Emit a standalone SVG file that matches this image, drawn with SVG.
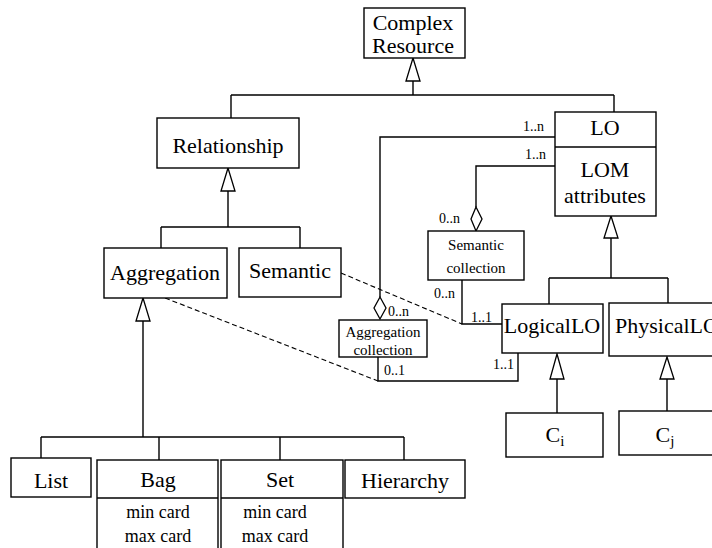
<svg xmlns="http://www.w3.org/2000/svg" width="712" height="548" viewBox="0 0 712 548" font-family="'Liberation Serif', 'Times New Roman', 'DejaVu Serif', serif">
<style>
.box{fill:#fff;stroke:#000;stroke-width:1.4}
.ln{fill:none;stroke:#000;stroke-width:1.4}
.dash{fill:none;stroke:#000;stroke-width:1.1;stroke-dasharray:5,3}
.tri{fill:#fff;stroke:#000;stroke-width:1.3}
text{font-family:'Liberation Serif','Times New Roman','DejaVu Serif',serif;fill:#000}
.t21{font-size:22px;text-anchor:middle}
.t18{font-size:18px;text-anchor:middle}
.t15{font-size:15px;text-anchor:middle}
.t13{font-size:14px}
</style>
<g id="connectors">
  <path class="ln" d="M413,81 V95 M231,95 H614 M231,95 V118 M614,95 V112"/>
  <polygon class="tri" points="413,58 406,81 420,81"/>
  <path class="ln" d="M228,191 V227 M161,227 H300 M161,227 V248 M300,227 V248"/>
  <polygon class="tri" points="228,168 221,191 235,191"/>
  <path class="ln" d="M143,321 V437 M41,437 H404 M41,437 V458 M159,437 V460 M280,437 V460 M404,437 V460"/>
  <polygon class="tri" points="143,298 136,321 150,321"/>
  <path class="ln" d="M611,238 V278 M549,278 H668 M549,278 V304 M668,278 V303"/>
  <polygon class="tri" points="611,216 604,238 618,238"/>
  <path class="ln" d="M557,379 V413 M667,379 V411"/>
  <polygon class="tri" points="557,354 550,379 564,379"/>
  <polygon class="tri" points="667,357 660,379 674,379"/>
  <path class="ln" d="M555,137 H380 V297"/>
  <polygon class="tri" points="380,297 374,308 380,319 386,308"/>
  <path class="ln" d="M555,166 H476 V207"/>
  <polygon class="tri" points="476,207 471,219 476,231 482,219"/>
  <path class="ln" d="M462,280 V324 H502"/>
  <path class="ln" d="M378,357 V381 H518 V353"/>
  <path class="dash" d="M341,273 L462,324"/>
  <path class="dash" d="M165,298 L378,381"/>
  <text class="t13" x="523" y="131">1..n</text>
  <text class="t13" x="525" y="159">1..n</text>
  <text class="t13" x="439" y="223">0..n</text>
  <text class="t13" x="434" y="298">0..n</text>
  <text class="t13" x="471" y="322">1..1</text>
  <text class="t13" x="388" y="316">0..n</text>
  <text class="t13" x="384" y="375">0..1</text>
  <text class="t13" x="493" y="369">1..1</text>
</g>
<g id="complex-resource">
  <rect class="box" x="364" y="8" width="101" height="50"/>
  <text class="t21" x="413" y="30">Complex</text>
  <text class="t21" x="413" y="53">Resource</text>
</g>
<g id="relationship">
  <rect class="box" x="157" y="118" width="142" height="50"/>
  <text class="t21" x="228" y="153">Relationship</text>
</g>
<g id="aggregation">
  <rect class="box" x="104" y="248" width="123" height="50"/>
  <text class="t21" x="165" y="280">Aggregation</text>
</g>
<g id="semantic">
  <rect class="box" x="239" y="248" width="102" height="49"/>
  <text class="t21" x="290" y="278">Semantic</text>
</g>
<g id="lo">
  <rect class="box" x="555" y="112" width="101" height="104"/>
  <line class="ln" x1="555" y1="147" x2="656" y2="147"/>
  <text class="t21" x="605" y="135">LO</text>
  <text class="t21" x="605" y="177">LOM</text>
  <text class="t21" x="605" y="203">attributes</text>
</g>
<g id="semantic-collection">
  <rect class="box" x="428" y="231" width="96" height="49"/>
  <text class="t15" x="476" y="250">Semantic</text>
  <text class="t15" x="476" y="273">collection</text>
</g>
<g id="aggregation-collection">
  <rect class="box" x="339" y="320" width="88" height="37"/>
  <text class="t15" x="383" y="337">Aggregation</text>
  <text class="t15" x="383" y="355">collection</text>
</g>
<g id="logicallo">
  <rect class="box" x="502" y="304" width="101" height="49"/>
  <text class="t21" x="552" y="333">LogicalLO</text>
</g>
<g id="physicallo">
  <rect class="box" x="609" y="303" width="112" height="53"/>
  <text class="t21" x="615" y="333" style="text-anchor:start">PhysicalLO</text>
</g>
<g id="ci">
  <rect class="box" x="506" y="413" width="97" height="44"/>
  <text class="t21" x="555" y="442">C<tspan font-size="15" dy="4">i</tspan></text>
</g>
<g id="cj">
  <rect class="box" x="619" y="411" width="100" height="44"/>
  <text class="t21" x="665" y="442">C<tspan font-size="15" dy="4">j</tspan></text>
</g>
<g id="list">
  <rect class="box" x="11" y="458" width="80" height="39"/>
  <text class="t21" x="51" y="488">List</text>
</g>
<g id="bag">
  <rect class="box" x="97" y="460" width="121" height="95"/>
  <line class="ln" x1="97" y1="498" x2="218" y2="498"/>
  <text class="t21" x="158" y="487">Bag</text>
  <text class="t18" x="158" y="518">min card</text>
  <text class="t18" x="158" y="542">max card</text>
</g>
<g id="set">
  <rect class="box" x="221" y="460" width="122" height="95"/>
  <line class="ln" x1="221" y1="498" x2="343" y2="498"/>
  <text class="t21" x="280" y="487">Set</text>
  <text class="t18" x="275" y="518">min card</text>
  <text class="t18" x="275" y="542">max card</text>
</g>
<g id="hierarchy">
  <rect class="box" x="345" y="460" width="120" height="38"/>
  <text class="t21" x="405" y="488">Hierarchy</text>
</g>
</svg>
